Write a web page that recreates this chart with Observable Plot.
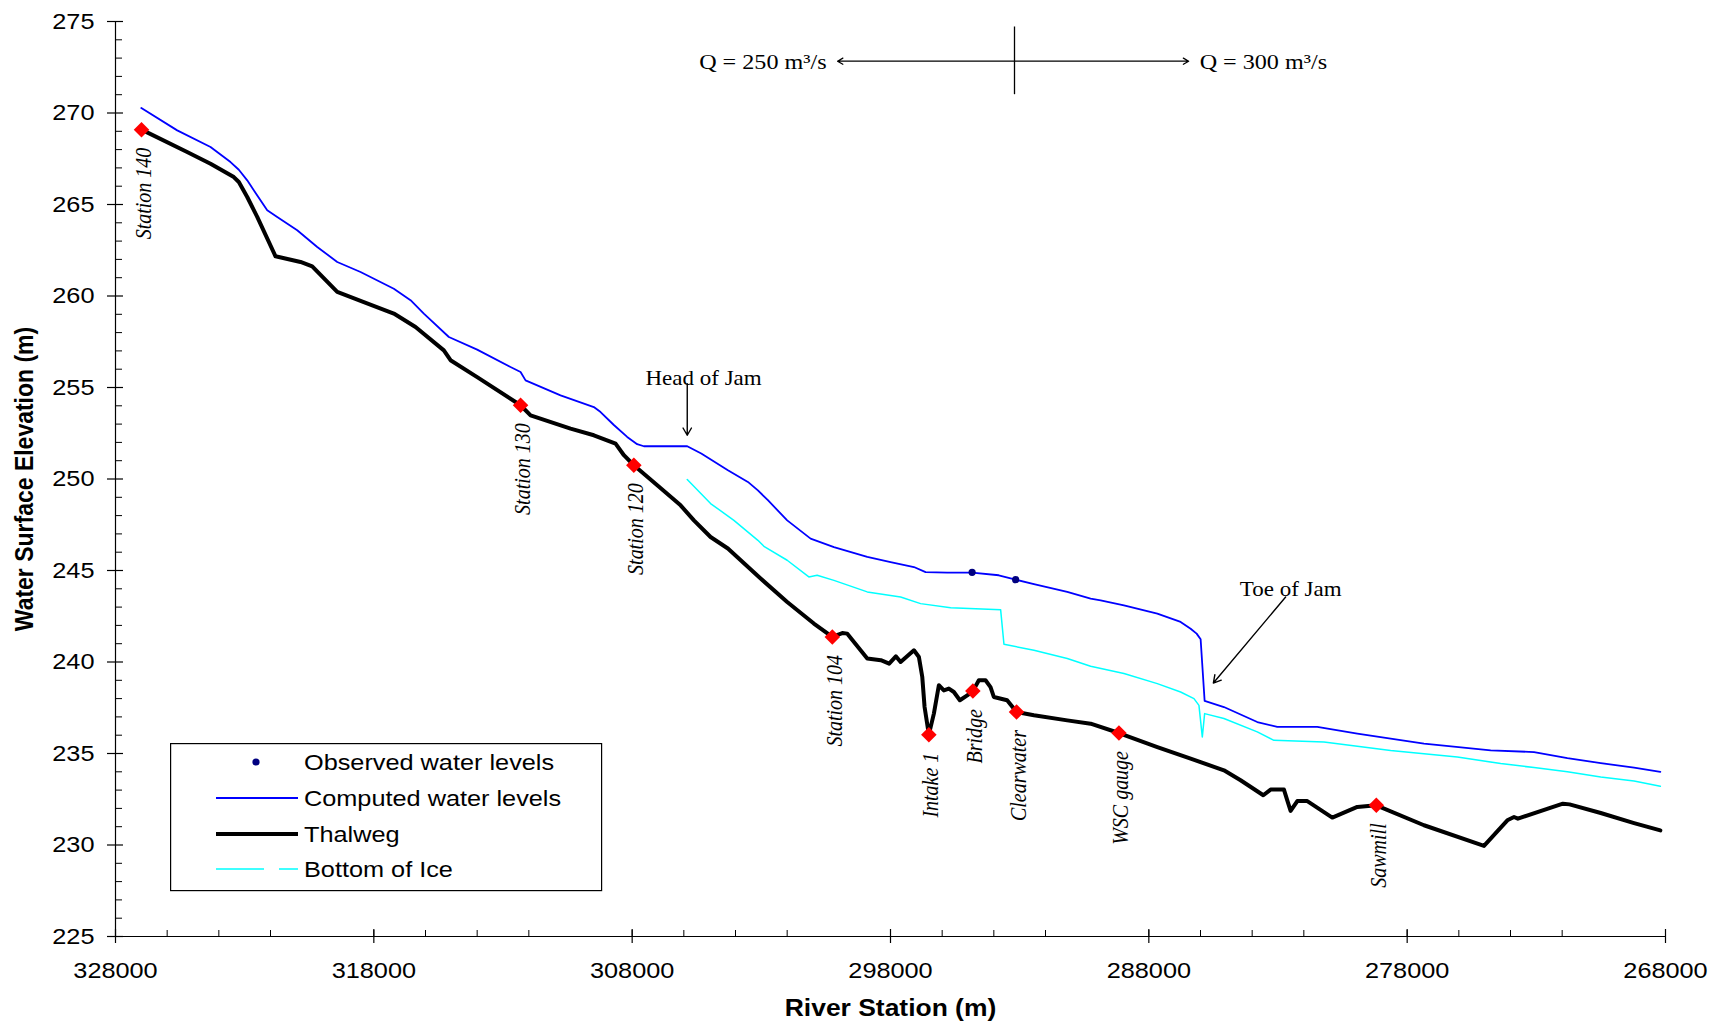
<!DOCTYPE html>
<html>
<head>
<meta charset="utf-8">
<script src="https://cdn.jsdelivr.net/npm/d3@7"></script>
<script src="https://cdn.jsdelivr.net/npm/@observablehq/plot@0.6"></script>
<style>
html, body { margin: 0; padding: 0; background: #fff; }
#wrap { position: relative; width: 1714px; height: 1023px; }
#legend { position: absolute; left: 170px; top: 743px; }
</style>
</head>
<body>
<div id="wrap"></div>
<script>
// ---------------- data ----------------
const xTicks = [328000, 318000, 308000, 298000, 288000, 278000, 268000];
const xMinorTicks = d3.range(326000, 268000, -2000).filter(d => d % 10000 !== 0);
const yTicks = [225, 230, 235, 240, 245, 250, 255, 260, 265, 270, 275];
const yMinorTicks = d3.range(226, 275, 1).filter(d => d % 5 !== 0);

const computedLevels = [
  [327000,270.27],[325611,269.05],[324322,268.14],[323548,267.32],[323226,266.90],[322901,266.32],
  [322127,264.68],[321740,264.32],[320966,263.59],[320191,262.68],[319417,261.86],[318515,261.31],
  [317226,260.40],[316579,259.77],[316064,259.04],[315096,257.76],[314000,257.07],[312708,256.12],
  [312320,255.85],[312127,255.39],[310772,254.57],[309483,253.93],[309223,253.66],[308709,252.95],
  [308193,252.30],[307806,251.90],[307548,251.79],[305868,251.79],[305326,251.39],[304294,250.48],
  [303520,249.84],[303133,249.38],[302746,248.84],[301999,247.74],[301093,246.74],[300190,246.28],
  [298900,245.74],[297996,245.46],[297093,245.19],[296641,244.91],[295801,244.88],[294841,244.88],
  [293810,244.74],[293157,244.50],[292448,244.25],[291158,243.83],[290253,243.46],[289866,243.37],
  [288963,243.10],[287672,242.64],[286770,242.19],[286382,241.82],[286150,241.55],[285995,241.24],
  [285840,237.87],[285093,237.54],[283802,236.72],[283028,236.45],[281479,236.45],[279930,236.09],
  [277349,235.54],[274767,235.17],[273088,235.08],[271798,234.75],[270507,234.48],[269217,234.23],
  [268200,234.00]
];

const bottomOfIce = [
  [305868,249.97],[304965,248.66],[304062,247.74],[303133,246.65],[302900,246.32],[302000,245.56],
  [301161,244.65],[300840,244.74],[300190,244.46],[298900,243.83],[297609,243.55],[296835,243.19],
  [295672,242.97],[293737,242.86],[293608,240.97],[292448,240.64],[291158,240.19],[290253,239.77],
  [288963,239.37],[287672,238.82],[286770,238.36],[286253,238.00],[286060,237.63],[285930,235.90],
  [285840,237.18],[285093,236.91],[283802,236.18],[283157,235.72],[281221,235.63],[278640,235.17],
  [276059,234.81],[274379,234.45],[273088,234.23],[271798,234.00],[270507,233.72],[269217,233.50],
  [268200,233.21]
];

const thalweg = [
  [326993,269.09],[325228,267.87],[324322,267.23],[323420,266.50],[323226,266.23],[322901,265.41],
  [322514,264.32],[321806,262.17],[320838,261.86],[320385,261.62],[319417,260.22],[318388,259.67],
  [317226,259.04],[316386,258.31],[315290,257.03],[315031,256.49],[314000,255.57],[312320,254.03],
  [311933,253.48],[310385,252.75],[309483,252.39],[308642,251.93],[308320,251.30],[307935,250.75],
  [307029,249.66],[306126,248.56],[305610,247.74],[304965,246.83],[304294,246.20],[303028,244.56],
  [301999,243.28],[300967,242.10],[300252,241.37],[299865,241.58],[299672,241.55],[298900,240.19],
  [298374,240.10],[298052,239.91],[297793,240.31],[297609,240.00],[297093,240.64],[296900,240.27],
  [296770,239.18],[296681,237.54],[296515,236.03],[296321,237.18],[296128,238.73],[295934,238.45],
  [295741,238.55],[295547,238.36],[295315,237.91],[295029,238.18],[294812,238.41],[294580,239.00],
  [294321,239.00],[294128,238.63],[294000,238.09],[293485,237.91],[293121,237.27],[292448,237.09],
  [291158,236.81],[290253,236.63],[289157,236.12],[287672,235.35],[286382,234.72],[285093,234.08],
  [284448,233.54],[283569,232.72],[283286,233.03],[282770,233.03],[282641,232.44],[282512,231.86],
  [282253,232.40],[281866,232.40],[280898,231.50],[279930,232.08],[279194,232.17],[277349,231.08],
  [275026,229.95],[274122,231.35],[273864,231.53],[273714,231.44],[271972,232.26],[271714,232.22],
  [270507,231.75],[269217,231.20],[268200,230.80]
];

const observedLevels = [[294841,244.9],[293157,244.5]];

const stationNames = ["Station 140","Station 130","Station 120","Station 104","Intake 1","Bridge","Clearwater","WSC gauge","Sawmill"];
const stationX = [326993, 312320, 307935, 300252, 296515, 294812, 293121, 289157, 279194];
const stationY = [269.09, 254.03, 250.75, 241.37, 236.03, 238.41, 237.27, 236.12, 232.17];

// annotations (data coordinates)
const flowSplitX = 293200;
const flowSplitY = [271.0, 274.7];
const flowArrowY = 272.83;
const flowArrowEnds = [300048, 286459];
const flowLabels = ["Q = 250 m\u00b3/s", "Q = 300 m\u00b3/s"];
const flowLabelX = [300474, 286033];
const jamLabels = ["Head of Jam", "Toe of Jam"];
const jamLabelX = [305236, 282509];
const jamLabelY = [255.12, 243.59];
const jamArrowFrom = [[305868, 255.21], [282704, 243.55]];
const jamArrowTo = [[305868, 252.39], [285502, 238.85]];

const legendLabels = ["Observed water levels", "Computed water levels", "Thalweg", "Bottom of Ice"];

// ---------------- chart ----------------
const W = 1714, H = 1023, mL = 115, mR = 49, mT = 21, mB = 87;
const pw = W - mL - mR, ph = H - mT - mB;
const sans = "'Liberation Sans', Arial, sans-serif";
const serif = "'Liberation Serif', 'Times New Roman', serif";

const stations = stationNames.map((name, i) => ({name, x: stationX[i], y: stationY[i]}));

const chart = Plot.plot({
  width: W, height: H,
  marginLeft: mL, marginRight: mR, marginTop: mT, marginBottom: mB,
  style: {fontFamily: sans, fontSize: "22px", background: "#fff", color: "#000", overflow: "visible"},
  x: {domain: [328000, 268000], axis: null},
  y: {domain: [225, 275], axis: null},
  marks: [
    // axes lines & ticks
    Plot.ruleX([328000], {stroke: "#000", strokeWidth: 1.2}),
    Plot.ruleY([225], {stroke: "#000", strokeWidth: 1.2}),
    Plot.tickX(xTicks, {x: d => d, insetTop: ph - 7, insetBottom: -7, stroke: "#000", strokeWidth: 1.2}),
    Plot.tickX(xMinorTicks, {x: d => d, insetTop: ph - 6, insetBottom: 0, stroke: "#000", strokeWidth: 1}),
    Plot.tickY(yTicks, {y: d => d, insetLeft: -8, insetRight: pw - 8, stroke: "#000", strokeWidth: 1.2}),
    Plot.tickY(yMinorTicks, {y: d => d, insetLeft: 0, insetRight: pw - 7, stroke: "#000", strokeWidth: 1}),
    Plot.text(xTicks, {x: d => d, text: d => String(d), frameAnchor: "bottom", dy: 26, lineAnchor: "top", textAnchor: "middle", fontSize: 22}),
    Plot.text(yTicks, {y: d => d, text: d => String(d), frameAnchor: "left", dx: -21, textAnchor: "end", lineAnchor: "middle", fontSize: 22}),
    Plot.text(["River Station (m)"], {frameAnchor: "bottom", dy: 72, textAnchor: "middle", lineAnchor: "middle", fontWeight: "bold", fontSize: 23}),
    Plot.text(["Water Surface Elevation (m)"], {frameAnchor: "left", dx: -91, rotate: -90, textAnchor: "middle", lineAnchor: "middle", fontWeight: "bold", fontSize: 23}),

    // series
    Plot.line(bottomOfIce, {x: d => d[0], y: d => d[1], stroke: "#00ffff", strokeWidth: 1.5}),
    Plot.line(computedLevels, {x: d => d[0], y: d => d[1], stroke: "#0000ff", strokeWidth: 1.8}),
    Plot.line(thalweg, {x: d => d[0], y: d => d[1], stroke: "#000", strokeWidth: 4, strokeLinejoin: "round"}),
    Plot.dot(stations, {x: "x", y: "y", symbol: "diamond2", r: 7, fill: "#ff0000", stroke: null}),
    Plot.dot(observedLevels, {x: d => d[0], y: d => d[1], r: 3.6, fill: "#000080", stroke: null}),
    Plot.text(stations, {x: "x", y: "y", text: "name", rotate: -90, textAnchor: "end", lineAnchor: "middle", dy: 18, dx: 2,
      fontFamily: serif, fontStyle: "italic", fontSize: 20}),

    // annotations
    Plot.ruleX([flowSplitX], {y1: flowSplitY[0], y2: flowSplitY[1], stroke: "#000", strokeWidth: 1.3}),
    Plot.arrow(flowArrowEnds, {x1: () => flowSplitX, x2: d => d, y1: () => flowArrowY, y2: () => flowArrowY,
      stroke: "#000", strokeWidth: 1.3, headLength: 7}),
    Plot.text([flowLabels[0]], {x: () => flowLabelX[0], y: () => flowArrowY, text: d => d,
      textAnchor: "end", lineAnchor: "middle", dy: 1, fontFamily: serif, fontSize: 21}),
    Plot.text([flowLabels[1]], {x: () => flowLabelX[1], y: () => flowArrowY, text: d => d,
      textAnchor: "start", lineAnchor: "middle", dy: 1, fontFamily: serif, fontSize: 21}),
    Plot.arrow(jamArrowFrom, {x1: d => d[0], y1: d => d[1], x2: (d, i) => jamArrowTo[i][0], y2: (d, i) => jamArrowTo[i][1],
      stroke: "#000", strokeWidth: 1.4, headLength: 9}),
    Plot.text(jamLabels, {x: (d, i) => jamLabelX[i], y: (d, i) => jamLabelY[i], text: d => d,
      textAnchor: "middle", lineAnchor: "bottom", fontFamily: serif, fontSize: 20})
  ]
});

// The reference artwork is stretched horizontally; reproduce that on the text glyphs.
d3.select(chart).selectAll("text").each(function () {
  const t = this.getAttribute("transform") || "";
  this.setAttribute("transform", t + (/rotate/.test(t) ? " scale(1,1.15)" : " scale(1.15,1)"));
});

const wrap = document.getElementById("wrap");
wrap.appendChild(chart);

// ---------------- legend ----------------
const lg = d3.select(wrap).append("svg").attr("id", "legend")
  .attr("width", 433).attr("height", 149)
  .style("font-family", sans).style("font-size", "22px");
lg.append("rect").attr("x", 0.6).attr("y", 0.6).attr("width", 431).attr("height", 147)
  .attr("fill", "#fff").attr("stroke", "#000").attr("stroke-width", 1.2);
const rowY = [19, 55, 91, 126];
lg.append("circle").attr("cx", 86).attr("cy", rowY[0]).attr("r", 3.6).attr("fill", "#000080");
lg.append("line").attr("x1", 46).attr("x2", 128).attr("y1", rowY[1]).attr("y2", rowY[1])
  .attr("stroke", "#0000ff").attr("stroke-width", 1.8);
lg.append("line").attr("x1", 46).attr("x2", 128).attr("y1", rowY[2]).attr("y2", rowY[2])
  .attr("stroke", "#000").attr("stroke-width", 4);
lg.append("line").attr("x1", 46).attr("x2", 128).attr("y1", rowY[3]).attr("y2", rowY[3])
  .attr("stroke", "#00ffff").attr("stroke-width", 1.6).attr("stroke-dasharray", "48,15");
lg.selectAll("text.lbl").data(legendLabels).join("text").attr("class", "lbl")
  .attr("transform", (d, i) => `translate(134,${rowY[i] + 8}) scale(1.15,1)`)
  .attr("fill", "#000")
  .text(d => d);
</script>
</body>
</html>
